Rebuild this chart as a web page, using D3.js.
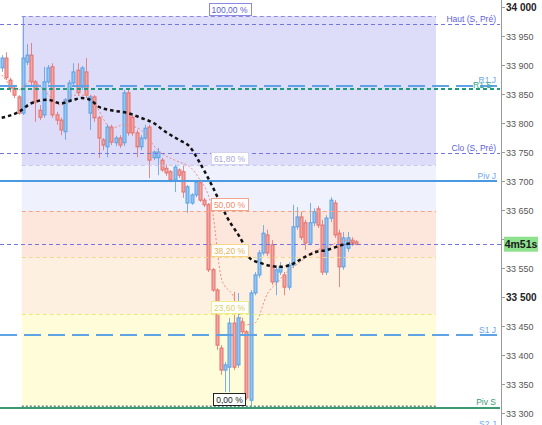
<!DOCTYPE html>
<html><head><meta charset="utf-8">
<script src="https://cdn.jsdelivr.net/npm/d3@7"></script>
<style>
body{margin:0;background:#fff}
svg{display:block;font-family:"Liberation Sans",Arial,sans-serif}
</style>
</head><body>
<svg id="c" width="542" height="425"></svg>
<script>
// ---- data ----
const opens  = [33895,33912,33874,33860,33845,33817,33905,33917,33871,33822,33814,33871,33897,33814,33805,33785,33840,33869,33891,33862,33888,33817,33845,33809,33771,33759,33793,33766,33774,33766,33852,33810,33783,33759,33774,33793,33740,33740,33736,33722,33716,33702,33719,33716,33662,33662,33676,33697,33667,33659,33547,33512,33412,33374,33379,33455,33383,33457,33440,33322,33507,33538,33576,33607,33590,33526,33543,33538,33517,33555,33621,33638,33628,33593,33628,33652,33624,33543,33636,33662,33610,33552,33584,33598,33595];
const highs  = [33917,33922,33878,33865,33848,33984,33936,33938,33874,33831,33897,33900,33903,33819,33809,33843,33874,33903,33903,33898,33912,33848,33848,33812,33774,33798,33797,33778,33779,33857,33857,33814,33788,33779,33797,33797,33753,33757,33740,33728,33719,33728,33722,33728,33693,33679,33702,33702,33671,33662,33550,33515,33417,33388,33464,33509,33507,33464,33443,33512,33543,33581,33624,33616,33598,33555,33560,33543,33560,33659,33655,33647,33633,33662,33653,33657,33633,33641,33672,33667,33616,33612,33612,33603,33598];
const lows   = [33888,33874,33853,33843,33814,33814,33900,33865,33802,33805,33809,33867,33809,33797,33779,33771,33836,33865,33847,33857,33843,33788,33802,33740,33753,33741,33762,33760,33757,33760,33778,33778,33741,33753,33771,33705,33736,33710,33716,33709,33698,33681,33705,33671,33645,33659,33672,33664,33655,33543,33509,33409,33366,33336,33336,33374,33378,33434,33322,33312,33503,33533,33572,33571,33521,33503,33538,33503,33512,33550,33616,33598,33581,33590,33622,33619,33538,33538,33629,33602,33517,33547,33578,33588,33589];
const closes = [33912,33878,33860,33848,33817,33912,33917,33871,33836,33810,33871,33895,33814,33805,33788,33840,33869,33888,33852,33895,33848,33845,33809,33774,33762,33793,33767,33774,33762,33852,33783,33783,33759,33774,33791,33736,33750,33750,33719,33714,33702,33724,33710,33681,33690,33676,33698,33667,33659,33547,33512,33417,33374,33383,33455,33379,33464,33440,33326,33507,33538,33576,33610,33576,33526,33547,33552,33517,33555,33621,33638,33603,33593,33628,33647,33624,33543,33636,33667,33607,33552,33602,33602,33593,33591];

const slowMaIdx = [0,4,7,11,14,17,19,21,23,26,30,33,36,39,42,44.6,47,50,53.4,57.2,58.8,61.2,66,68.3,71.4,74.7,77.1,80.9,83.3];
const slowMaVal = [33809,33819,33834,33840,33834,33840,33843,33840,33828,33822,33817,33809,33800,33784,33771,33759,33731,33690,33638,33593,33567,33559,33552,33555,33567,33578,33581,33590,33593];
const fastMaIdx = [0,4,7,10,14,17,21,23,26,29,33,35,37,41,45,47,48.7,49.8,52.2,54.8,57.7,60,63.1,65.2,67.6,70.7,73.8,77.1,81.8,84];
const fastMaVal = [33883,33857,33874,33857,33831,33848,33848,33822,33791,33797,33788,33771,33753,33736,33722,33702,33681,33655,33529,33503,33452,33455,33507,33524,33543,33560,33578,33586,33598,33597];

const yTicks = [34000,33950,33900,33850,33800,33750,33700,33650,33600,33550,33500,33450,33400,33350,33300];
const boldTicks = [34000,33500];

const fibHigh = 33984, fibLow = 33312, fibStartIdx = 5;
const fibRatios = [1,0.618,0.5,0.382,0.236,0];
const fibLabels = ["100,00 %","61,80 %","50,00 %","38,20 %","23,60 %","0,00 %"];

const refNames  = ["Haut (S, Pré)","R1 J","R1 S","Clo (S, Pré)","Piv J","S1 J","Piv S","S2 J"];
const refValues = [33970,33864,33859,33748,33700,33434,33309,33272];
const timerText = "4m51s";

// ---- styles ----
const fibBand = ["#dddcf9","#eff1fd","#fde6dc","#fef0e1","#fffcd9"];
const fibLine = ["#8a8ae6","#c8c8ee","#f5a48c","#f7d58a","#efe878","#5d8f78"];
const fibText = ["#5c5cd0","#a8a8d6","#f08a6a","#e6b55a","#d8d06a","#222"];
const fibBox  = ["#8a8ae6","#d4d4f0","#f5a48c","#f7d58a","#f0ec88","#222"];
const refStyle = {
  "Haut (S, Pré)": {c:"#7474e2", w:1, d:"4,3", t:"#6060dc", end:500},
  "R1 J": {c:"#5ea3e6", w:2, d:"17,7", t:"#6aa6ea", end:497},
  "R1 S": {c:"#1f9c78", w:2, d:"4,3", t:"#33a686", end:500},
  "Clo (S, Pré)": {c:"#7474e2", w:1, d:"4,3", t:"#6060dc", end:500},
  "Piv J": {c:"#4a9ae2", w:2, d:null, t:"#6aa6ea", end:497},
  "S1 J": {c:"#5ea3e6", w:2, d:"17,7", t:"#6aa6ea", end:497},
  "Piv S": {c:"#3c9a72", w:2, d:null, t:"#3c9a72", end:500},
  "S2 J": {c:"#5ea3e6", w:2, d:"17,7", t:"#6aa6ea", end:497}
};

const svg = d3.select("#c");
const N = closes.length;
const x = d3.scaleLinear().domain([0, N-1]).range([1.7, 356]);
const y = d3.scaleLinear().domain([33300, 34000]).range([413, 7]);
const axisX = 501;
const fibX0 = x(fibStartIdx) - 1, fibX1 = 436;

// fib bands
const fibPrices = fibRatios.map(r => fibLow + r*(fibHigh - fibLow));
for (let i = 0; i < fibPrices.length - 1; i++) {
  svg.append("rect").attr("x", fibX0).attr("width", fibX1 - fibX0)
    .attr("y", y(fibPrices[i])).attr("height", y(fibPrices[i+1]) - y(fibPrices[i]))
    .attr("fill", fibBand[i]);
}

// candles
const g = svg.append("g");
const blue = {s:"#5b9fe3", f:"#93c5f3"}, red = {s:"#e46f6b", f:"#f4a4a1"};
d3.range(N).forEach(i => {
  const up = closes[i] >= opens[i];
  const col = up ? blue : red;
  const cx = Math.round(x(i)) + 0.5;
  g.append("line").attr("x1", cx).attr("x2", cx)
    .attr("y1", y(highs[i])).attr("y2", y(lows[i]))
    .attr("stroke", col.s).attr("stroke-width", 1).attr("opacity", 0.8);
  const top = y(Math.max(opens[i], closes[i])), bot = y(Math.min(opens[i], closes[i]));
  g.append("rect").attr("x", cx - 1.5).attr("width", 3)
    .attr("y", top).attr("height", Math.max(1, bot - top))
    .attr("fill", col.f).attr("stroke", col.s).attr("stroke-width", 1);
});

// fib lines
fibPrices.forEach((p, i) => {
  const yy = Math.round(y(p)) + 0.5;
  svg.append("line").attr("x1", fibX0).attr("x2", fibX1).attr("y1", yy).attr("y2", yy)
    .attr("stroke", fibLine[i]).attr("stroke-width", i === 5 ? 2 : 1)
    .attr("stroke-dasharray", i === 5 ? "2,2" : "4,3");
});

// reference lines
refNames.forEach((n, i) => {
  const s = refStyle[n];
  const yy = Math.round(y(refValues[i])) + (s.w === 1 ? 0.5 : 0);
  if (yy < 0 || yy > 425) return;
  const l = svg.append("line").attr("x1", 0).attr("x2", s.end).attr("y1", yy).attr("y2", yy)
    .attr("stroke", s.c).attr("stroke-width", s.w);
  if (s.d) l.attr("stroke-dasharray", s.d);
});

// current price line
const last = closes[N-1];
svg.append("line").attr("x1", 0).attr("x2", axisX).attr("y1", Math.round(y(last)) + 0.5).attr("y2", Math.round(y(last)) + 0.5)
  .attr("stroke", "#7474e2").attr("stroke-width", 1).attr("stroke-dasharray", "4,3");

// moving averages
const lineGen = d3.line().x(d => x(d[0])).y(d => y(d[1])).curve(d3.curveMonotoneX);
svg.append("path").attr("d", lineGen(fastMaIdx.map((v, i) => [v, fastMaVal[i]])))
  .attr("fill", "none").attr("stroke", "#f08a86").attr("stroke-width", 1).attr("stroke-dasharray", "2,2");
svg.append("path").attr("d", lineGen(slowMaIdx.map((v, i) => [v, slowMaVal[i]])))
  .attr("fill", "none").attr("stroke", "#111").attr("stroke-width", 2.5).attr("stroke-dasharray", "3.5,3");

// ref labels
refNames.forEach((n, i) => {
  const s = refStyle[n];
  let ex = 496, dy = -2.5;
  if (n === "R1 S") { ex = 492; dy = -1; }
  svg.append("text").attr("x", ex).attr("y", y(refValues[i]) + dy)
    .attr("text-anchor", "end").attr("font-size", 8.5).attr("fill", s.t).text(n);
});

// fib labels
fibPrices.forEach((p, i) => {
  const yy = Math.round(y(p));
  const cx = 229.5;
  const t = svg.append("text").attr("x", cx).attr("y", yy - 3.5).attr("text-anchor", "middle")
    .attr("font-size", 8.5).attr("fill", fibText[i]).text(fibLabels[i]);
  const w = t.node().getComputedTextLength() + 6;
  svg.insert("rect", () => t.node()).attr("x", Math.round(cx - w/2) + 0.5).attr("y", yy - 13 + 0.5)
    .attr("width", Math.round(w)).attr("height", 12).attr("fill", "#fff").attr("stroke", fibBox[i]).attr("stroke-width", 1);
});

// axis
svg.append("line").attr("x1", axisX + 0.5).attr("x2", axisX + 0.5).attr("y1", 0).attr("y2", 425)
  .attr("stroke", "#9a9a9a");
yTicks.forEach(v => {
  const yy = Math.round(y(v)) + 0.5;
  svg.append("line").attr("x1", axisX).attr("x2", axisX + 4).attr("y1", yy).attr("y2", yy).attr("stroke", "#9a9a9a");
  const b = boldTicks.includes(v);
  svg.append("text").attr("x", 506).attr("y", y(v) + 3.5)
    .attr("font-size", b ? 10 : 9).attr("font-weight", b ? "bold" : "normal")
    .attr("fill", b ? "#222" : "#555").text(d3.format(",")(v).replace(",", " "));
});

// timer box
const ty = y(last);
svg.append("rect").attr("x", 504).attr("y", ty - 7.5).attr("width", 34).attr("height", 15).attr("fill", "#8ee28e");
svg.append("text").attr("x", 521).attr("y", ty + 4).attr("text-anchor", "middle")
  .attr("font-size", 10.5).attr("font-weight", "bold").attr("fill", "#1a1a1a").text(timerText);
</script>
</body></html>
